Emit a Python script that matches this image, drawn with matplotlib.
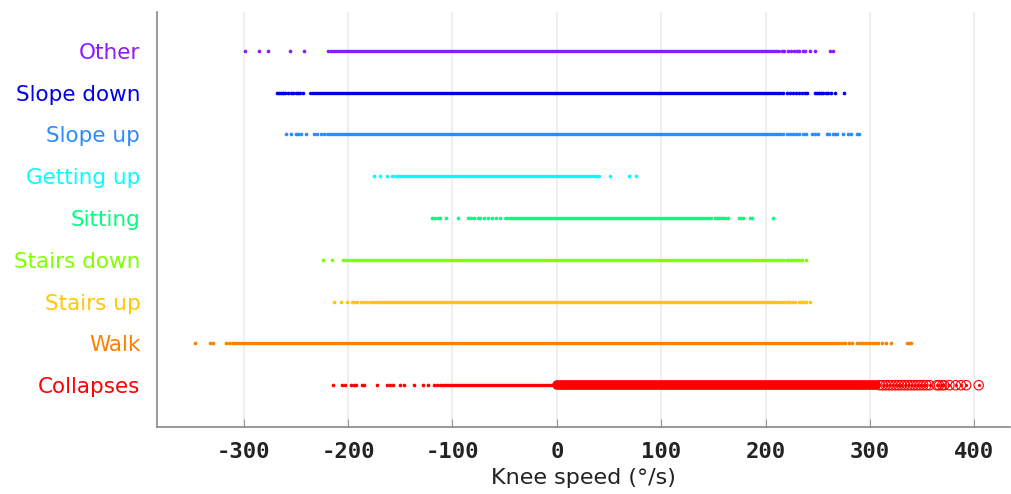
import matplotlib
matplotlib.use("Agg")
import matplotlib.pyplot as plt

categories = ["Collapses", "Walk", "Stairs up", "Stairs down", "Sitting",
              "Getting up", "Slope up", "Slope down", "Other"]
colors = ["#ff0000", "#ff8000", "#ffc800", "#80ff00", "#00ff80",
          "#00ffff", "#2b8cff", "#0000e6", "#8c1aff"]

# dense part of each strip (start, end) in deg/s
core_lo = [-110, -311, -179, -192, -50, -155, -220, -236, -214]
core_hi = [0, 268, 216, 218, 148, 40, 212, 215, 213]

# sparse points outside the dense part
tails = [
    [-214, -206, -203, -197, -194, -192, -187, -185, -172, -163, -160, -157,
     -150, -146, -137, -128, -123, -118, -115, -112],
    [-347, -332, -329, -317, -314, 270, 273, 276, 280, 283, 287, 290, 293,
     296, 299, 302, 305, 308, 311, 315, 320, 335, 337, 339],
    [-213, -207, -201, -196, -194, -191, -188, -185, -182, 218, 220, 222, 225,
     228, 232, 234, 236, 239, 242],
    [-224, -215, -205, -203, -201, -199, -197, -195, -193, 220, 222, 224, 226,
     228, 230, 232, 235, 239],
    [-120, -117, -114, -112, -106, -95, -85, -82, -79, -76, -74, -70, -66,
     -62, -58, -54, 151, 153, 155, 157, 159, 161, 164, 174, 176, 178, 185,
     187, 207],
    [-175, -169, -163, -158, 51, 69, 76],
    [-259, -255, -250, -248, -245, -240, -233, -230, -226, -223, 214, 217,
     220, 223, 226, 229, 232, 236, 239, 244, 247, 250, 259, 261, 264, 266,
     268, 274, 279, 282, 287, 289],
    [-268, -266, -264, -262, -260, -258, -255, -253, -250, -248, -246, -243,
     217, 220, 223, 226, 229, 232, 235, 238, 240, 247, 249, 251, 253, 255,
     258, 260, 263, 266, 275],
    [-299, -285, -277, -256, -242, -219, -216, 216, 218, 221, 224, 227, 230,
     232, 236, 238, 242, 247, 262, 264],
]

# collapses with positive speed are drawn as rings
ring_band = [0, 306]
ring_pts = [309, 312, 315, 318, 321, 324, 327, 330, 333, 336, 339, 342, 345,
            348, 351, 354, 357, 364, 366, 369, 371, 376, 382, 387, 392, 404]

xticks = [-300, -200, -100, 0, 100, 200, 300, 400]

fig = plt.figure(figsize=(10.11, 4.94), dpi=100)
ax = fig.add_axes([0.1553, 0.1356, 0.8437, 0.8401])

for i, (cat, c) in enumerate(zip(categories, colors)):
    ax.plot([core_lo[i], core_hi[i]], [i, i], color=c, lw=2.4,
            solid_capstyle="round", zorder=3)
    ax.scatter(tails[i], [i] * len(tails[i]), s=7, color=c, lw=0, zorder=3)

ax.plot(ring_band, [0, 0], color=colors[0], lw=7.0, solid_capstyle="round",
        zorder=3)
ax.scatter(ring_pts, [0] * len(ring_pts), s=46, facecolors="none",
           edgecolors=colors[0], lw=0.8, zorder=4)
ax.scatter(ring_pts, [0] * len(ring_pts), s=5, color=colors[0], lw=0, zorder=4)

ax.set_xlim(-383, 434)
ax.set_ylim(-1.0, 8.93)
ax.set_xticks(xticks)
ax.set_xticklabels([str(t) for t in xticks], family="DejaVu Sans Mono",
                   fontsize=16, fontweight="bold", color="#222222")
ax.set_yticks(range(len(categories)))
ax.set_yticklabels(categories, fontsize=15.5)
for lab, c in zip(ax.get_yticklabels(), colors):
    lab.set_color(c)
ax.tick_params(axis="y", length=0, pad=12)
ax.tick_params(axis="x", direction="in", length=6, color="#999999", pad=11)

ax.grid(axis="x", color="#ececec", lw=1.2, zorder=0)
ax.set_axisbelow(True)
for s in ["top", "right"]:
    ax.spines[s].set_visible(False)
for s in ["left", "bottom"]:
    ax.spines[s].set_color("#888888")
    ax.spines[s].set_linewidth(1.2)

ax.set_xlabel("Knee speed (°/s)", fontsize=16, color="#222222", labelpad=4)

fig.savefig("out.png", dpi=100)
